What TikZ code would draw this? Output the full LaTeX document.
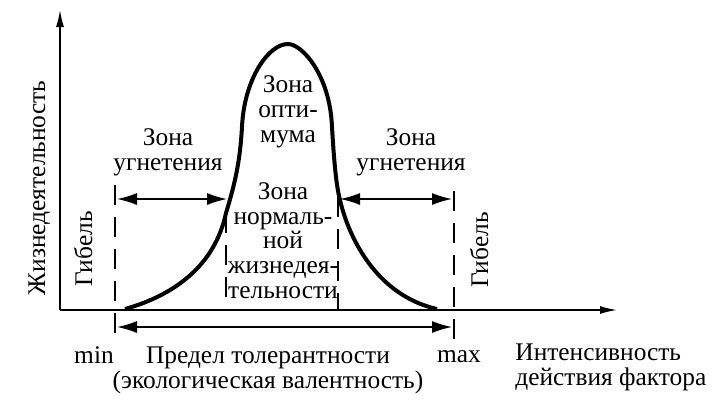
\documentclass[tikz,border=0pt]{standalone}
\usepackage{fontspec}
\setmainfont{Liberation Serif}
\usetikzlibrary{arrows.meta}

\begin{document}
\begin{tikzpicture}[x=0.5pt,y=-0.5pt,
	axis/.style={line width=0.75pt,-{Latex[length=8.5pt,width=4pt]}},
	limit/.style={line width=1pt,dash pattern=on 10pt off 6pt},
	span/.style={line width=0.75pt,{Latex[length=10pt,width=6pt]}-{Latex[length=10pt,width=6pt]}},
	curve/.style={line width=2pt},
	lbl/.style={inner sep=0pt,align=center,font=\fontsize{12.7}{12.3}\selectfont}]

	\useasboundingbox (0,0) rectangle (716,404);

	% axes
	\coordinate (O) at (60,310);
	\coordinate (ytip) at (60,10);
	\coordinate (xtip) at (617,310);
	\draw[axis] (O) -- (ytip);
	\draw[axis] (O) -- (xtip);

	% limits
	\coordinate (minT) at (115,185);
	\coordinate (minB) at (115,336);
	\coordinate (lowT) at (226,213);
	\coordinate (lowB) at (226,308);
	\coordinate (uppT) at (338,197);
	\coordinate (uppB) at (338,310);
	\coordinate (maxT) at (454,191);
	\coordinate (maxB) at (454,339);
	\draw[limit] (minT) -- (minB);
	\draw[limit] (lowT) -- (lowB);
	\draw[limit] (uppT) -- (uppB);
	\draw[limit] (maxT) -- (maxB);

	% arrows
	\coordinate (a1) at (117,199);
	\coordinate (a2) at (227,199);
	\coordinate (a3) at (340,199);
	\coordinate (a4) at (452,199);
	\coordinate (b1) at (117,327);
	\coordinate (b2) at (452,327);
	\draw[span] (a1) -- (a2);
	\draw[span] (a3) -- (a4);
	\draw[span] (b1) -- (b2);

	% curve
	\draw[curve] (125,309) .. controls (175,295) and (215,265) .. (226,213)
		.. controls (236,180) and (240,160) .. (242,127)
		.. controls (244,80) and (268,44) .. (288,44)
		.. controls (302,44) and (330,75) .. (332,127)
		.. controls (334,160) and (336,185) .. (340,200)
		.. controls (348,235) and (375,295) .. (437,309);

	% labels (base = last line)
	\node[lbl,rotate=90,anchor=base] (life) at (45,188) {Жизнедеятельность};
	\node[lbl,rotate=90,anchor=base] (deathL) at (92,249) {Гибель};
	\node[lbl,rotate=90,anchor=base] (deathR) at (488,250) {Гибель};
	\node[lbl,anchor=base] (zoneL) at (168,170) {Зона\\угнетения};
	\node[lbl,anchor=base] (zoneR) at (411,170) {Зона\\угнетения};
	\node[lbl,anchor=base] (opt) at (288,142) {Зона\\опти-\\мума};
	\node[lbl,anchor=base] (norm) at (283,298) {Зона\\нормаль-\\ной\\жизнедея-\\тельности};
	\node[lbl,anchor=base] (min) at (94,363) {min};
	\node[lbl,anchor=base] (max) at (459,362) {max};
	\node[lbl,anchor=base] (tol) at (268,388) {Предел толерантности\\(экологическая валентность)};
	\node[lbl,anchor=base west,align=left] (fac) at (515,385) {Интенсивность\\действия фактора};

\end{tikzpicture}
\end{document}
